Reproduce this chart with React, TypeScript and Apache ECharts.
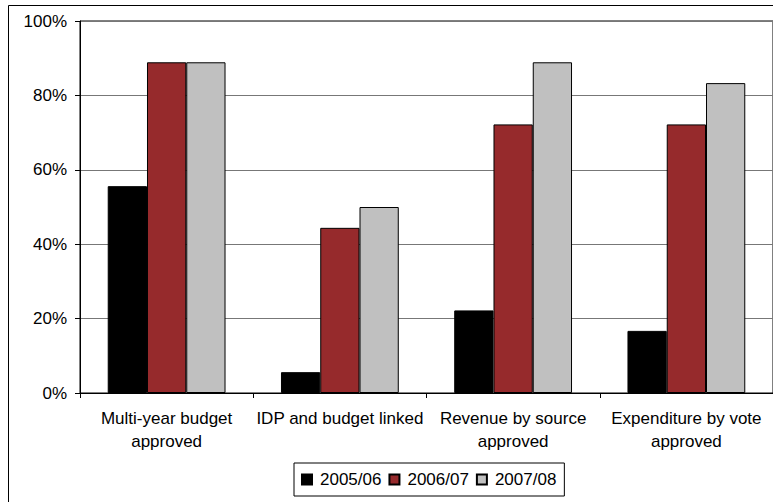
import React, { useEffect, useRef } from "react";
import * as echarts from "echarts";

const categories = [
  "Multi-year budget\napproved",
  "IDP and budget linked",
  "Revenue by source\napproved",
  "Expenditure by vote\napproved",
];
const seriesNames = ["2005/06", "2006/07", "2007/08"];
const values2005 = [55.6, 5.6, 22.2, 16.7];
const values2006 = [88.9, 44.4, 72.2, 72.2];
const values2007 = [88.9, 50.0, 88.9, 83.3];
const colors = ["#000000", "#962a2c", "#c0c0c0"];

export default function App() {
  const ref = useRef<HTMLDivElement>(null);
  useEffect(() => {
    const chart = echarts.init(ref.current!, null, { renderer: "svg" });
    const font = "'Liberation Sans', Arial, sans-serif";
    const data = [values2005, values2006, values2007];
    chart.setOption({
      animation: false,
      textStyle: { fontFamily: font },
      graphic: [
        {
          type: "rect",
          shape: { x: 8.5, y: 5.5, width: 800, height: 600 },
          style: { fill: "none", stroke: "#000", lineWidth: 1 },
          z: 0,
        },
      ],
      grid: { left: 80, top: 21, width: 700, height: 372, show: true, borderColor: "#000", borderWidth: 1 },
      legend: {
        left: 294,
        top: 463,
        itemWidth: 10,
        itemHeight: 10,
        itemGap: 7,
        padding: [8, 8, 8, 7],
        borderColor: "#000",
        borderWidth: 1,
        icon: "rect",
        textStyle: { fontFamily: font, fontSize: 17, color: "#000", padding: [0, 0, 0, 3] },
        data: seriesNames,
      },
      xAxis: {
        type: "category",
        data: categories,
        axisLine: { lineStyle: { color: "#000" } },
        axisTick: { show: true, length: 5, lineStyle: { color: "#000" } },
        axisLabel: { fontFamily: font, fontSize: 17, color: "#000", margin: 14, lineHeight: 23, interval: 0 },
      },
      yAxis: {
        type: "value",
        min: 0,
        max: 100,
        interval: 20,
        axisLine: { show: true, lineStyle: { color: "#000" } },
        axisTick: { show: true, length: 5, lineStyle: { color: "#000" } },
        axisLabel: { fontFamily: font, fontSize: 17, color: "#000", margin: 13, formatter: "{value}%" },
        splitLine: { lineStyle: { color: "#777" } },
      },
      series: seriesNames.map((name, i) => ({
        name,
        type: "bar",
        data: data[i],
        barGap: "0%",
        barCategoryGap: "32%",
        itemStyle: { color: colors[i], borderColor: "#000", borderWidth: 1 },
      })),
    });
    return () => chart.dispose();
  }, []);
  return (
    <div
      ref={ref}
      style={{ position: "fixed", left: 0, top: 0, width: 773, height: 502, background: "#fff" }}
    />
  );
}
